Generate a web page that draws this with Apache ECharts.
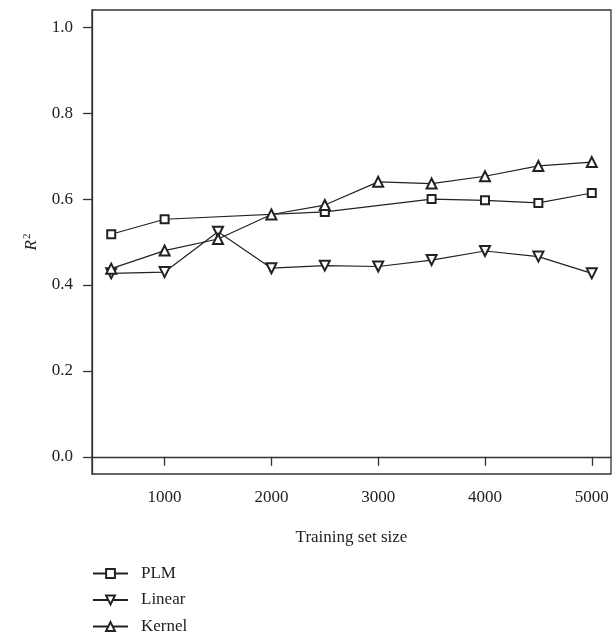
<!DOCTYPE html>
<html>
<head>
    <meta charset="utf-8" />
    <title></title>
    <script src="https://cdn.jsdelivr.net/npm/echarts@6/dist/echarts.min.js"></script>
</head>
<body style="margin:0">
    <div id="main" style="width:616px;height:635px;"></div>
    <script>
        // data
        var plmX = [500, 1000, 2500, 3500, 4000, 4500, 5000];
        var plmY = [0.518, 0.553, 0.570, 0.600, 0.597, 0.591, 0.614];
        var sizes = [500, 1000, 1500, 2000, 2500, 3000, 3500, 4000, 4500, 5000];
        var linearY = [0.427, 0.430, 0.524, 0.439, 0.445, 0.443, 0.458, 0.479, 0.466, 0.427];
        var kernelY = [0.438, 0.480, 0.507, 0.564, 0.586, 0.640, 0.636, 0.653, 0.677, 0.686];
        var xTicks = [1000, 2000, 3000, 4000, 5000];
        var yTicks = [0, 0.2, 0.4, 0.6, 0.8, 1.0];

        function pairs(xs, ys) {
            return xs.map(function (x, i) { return [x, ys[i]]; });
        }

        var font = 'Liberation Serif';
        var ink = '#222';

        var chart = echarts.init(document.getElementById('main'));
        chart.setOption({
            animation: false,
            grid: {
                left: 92, top: 10, right: 5, bottom: 161,
                show: true, borderColor: '#333', borderWidth: 1.3
            },
            legend: {
                orient: 'vertical',
                left: 92, top: 565,
                padding: 0,
                itemWidth: 35, itemHeight: 11, itemGap: 9.5,
                textStyle: { fontFamily: font, fontSize: 17, color: ink, padding: [0, 0, 0, 8] },
                data: ['PLM', 'Linear', 'Kernel']
            },
            xAxis: {
                type: 'value',
                min: 320, max: 5180,
                splitLine: { show: false },
                axisLine: { show: true, lineStyle: { color: '#333', width: 1.3 } },
                axisTick: { show: true, length: 9, customValues: xTicks, lineStyle: { color: '#333', width: 1.3 } },
                axisLabel: {
                    customValues: xTicks, margin: 15, fontFamily: font, fontSize: 17, color: ink,
                    formatter: function (v) { return String(v); }
                },
                name: 'Training set size',
                nameLocation: 'middle',
                nameGap: 55,
                nameTextStyle: { fontFamily: font, fontSize: 17, color: ink }
            },
            yAxis: {
                type: 'value',
                min: -0.04, max: 1.04,
                splitLine: { show: false },
                axisLine: { show: true, lineStyle: { color: '#333', width: 1.3 } },
                axisTick: { show: true, length: 9, customValues: yTicks, lineStyle: { color: '#333', width: 1.3 } },
                axisLabel: {
                    customValues: yTicks, margin: 19, fontFamily: font, fontSize: 17, color: ink,
                    formatter: function (v) { return v.toFixed(1); }
                },
                name: '{r|R}{s|2}',
                nameLocation: 'middle',
                nameGap: 51,
                nameTextStyle: {
                    rich: {
                        r: { fontFamily: font, fontSize: 17, fontStyle: 'italic', color: ink },
                        s: { fontFamily: font, fontSize: 11, color: ink, padding: [0, 0, 8, 1] }
                    }
                }
            },
            series: [{
                name: 'PLM',
                type: 'line',
                data: pairs(plmX, plmY),
                symbol: 'emptyRect',
                symbolSize: 8,
                lineStyle: { color: ink, width: 1.2 },
                itemStyle: { color: ink, borderWidth: 1.2 }
            }, {
                name: 'Linear',
                type: 'line',
                data: pairs(sizes, linearY),
                symbol: 'emptyTriangle',
                symbolRotate: 180,
                symbolSize: 10,
                lineStyle: { color: ink, width: 1.2 },
                itemStyle: { color: ink, borderWidth: 1.2 }
            }, {
                name: 'Kernel',
                type: 'line',
                data: pairs(sizes, kernelY),
                symbol: 'emptyTriangle',
                symbolSize: 10,
                lineStyle: { color: ink, width: 1.2 },
                itemStyle: { color: ink, borderWidth: 1.2 }
            }]
        });
    </script>
</body>
</html>
